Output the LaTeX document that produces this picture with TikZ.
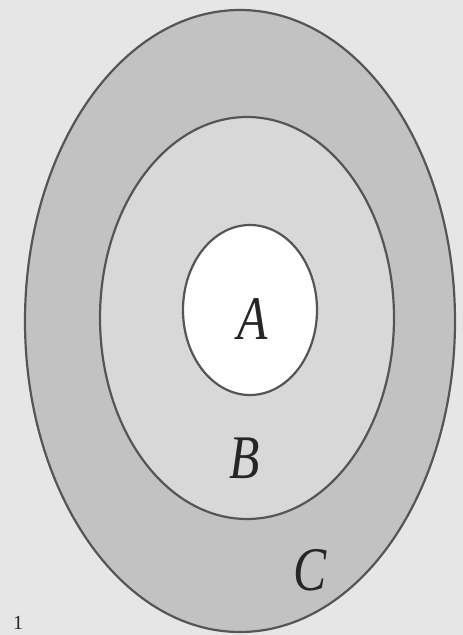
\documentclass[tikz,border=0pt]{standalone}
\usepackage{tikz}
\usepackage{fontspec}
\setmainfont{Liberation Serif}
\definecolor{bg}{HTML}{E6E6E6}
\definecolor{ringC}{HTML}{C2C2C2}
\definecolor{ringB}{HTML}{D8D8D8}
\definecolor{edge}{HTML}{555555}
\tikzset{
  ring/.style={draw=edge, line width=2.2pt},
  lab/.style={font=\fontsize{62}{62}\selectfont\itshape, text=black!85, inner sep=0pt, xscale=0.8}
}
\begin{document}
\begin{tikzpicture}[x=1pt,y=-1pt]
\path[fill=bg] (0,0) rectangle (463,635);
\useasboundingbox (0,0) rectangle (463,635);
\begin{scope}
\clip (0,0) rectangle (463,635);
\draw[ring, fill=ringC] (240,321) ellipse [x radius=215, y radius=311];
\draw[ring, fill=ringB] (247,318) ellipse [x radius=147, y radius=201];
\draw[ring, fill=white] (250,310) ellipse [x radius=67, y radius=85];
\node[lab] (A) at (253,319) {A};
\node[lab] (B) at (245,458) {B};
\node[lab] (C) at (310,570) {C};
\node[font=\fontsize{20}{20}\selectfont, text=black!85, inner sep=0pt, anchor=south] (one) at (18,630) {1};
\end{scope}
\end{tikzpicture}
\end{document}
